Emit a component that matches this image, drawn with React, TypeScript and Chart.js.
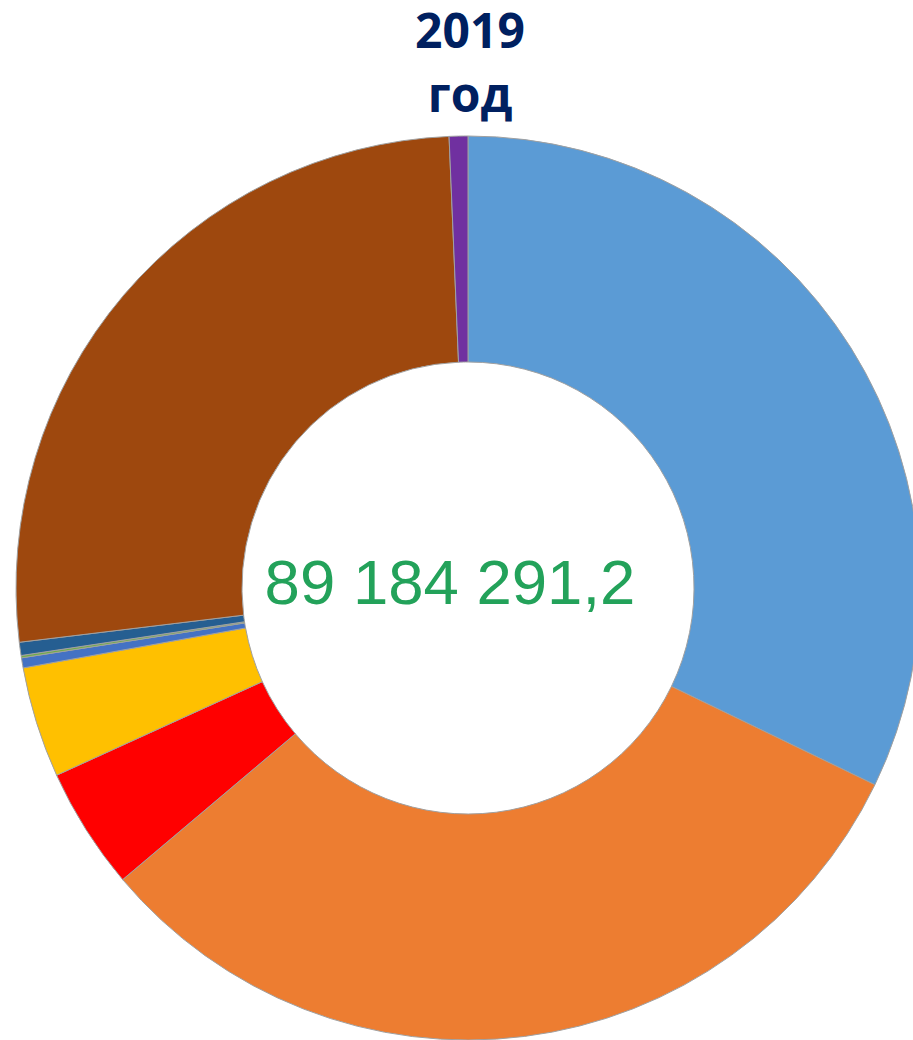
import React, { useEffect, useRef } from "react";
import { Chart, registerables } from "chart.js";

Chart.register(...registerables);

const categories = [
  "Категория 1",
  "Категория 2",
  "Категория 3",
  "Категория 4",
  "Категория 5",
  "Категория 6",
  "Категория 7",
  "Категория 8",
  "Категория 9",
];
const values = [28690000, 28245000, 3890000, 3540000, 320000, 75000, 420000, 23410000, 595000];
const colors = ["#5B9BD5", "#ED7D31", "#FF0000", "#FFC000", "#4472C4", "#70AD47", "#255E91", "#9E480E", "#7030A0"];
const titleLines = ["2019", "год"];
const centerLabel = "89 184 291,2";

export default function App() {
  const ref = useRef<HTMLCanvasElement | null>(null);

  useEffect(() => {
    if (!ref.current) return;
    const chart = new Chart(ref.current, {
      type: "doughnut",
      data: {
        labels: categories,
        datasets: [
          {
            data: values,
            backgroundColor: colors,
            borderColor: "#a0a0a0",
            borderWidth: 1,
          },
        ],
      },
      options: {
        responsive: false,
        animation: false,
        radius: 452,
        cutout: "50%",
        rotation: 0,
        layout: { padding: 0 },
        plugins: {
          legend: { display: false },
          tooltip: { enabled: false },
          title: { display: false },
        },
      },
    });
    return () => chart.destroy();
  }, []);

  return (
    <div
      style={{
        position: "fixed",
        left: 0,
        top: 0,
        width: 913,
        height: 1040,
        overflow: "hidden",
        background: "#ffffff",
      }}
    >
      <canvas
        ref={ref}
        width={920}
        height={920}
        style={{ position: "absolute", left: 8, top: 128, width: 920, height: 920 }}
      />
      <div
        style={{
          position: "absolute",
          left: 370,
          top: -2,
          width: 200,
          textAlign: "center",
          fontFamily: "'Open Sans', sans-serif",
          fontWeight: 700,
          fontSize: 48,
          lineHeight: "64px",
          color: "#002060",
        }}
      >
        {titleLines.map((t, i) => (
          <div key={i}>{t}</div>
        ))}
      </div>
      <div
        style={{
          position: "absolute",
          left: 0,
          top: 547,
          width: 900,
          textAlign: "center",
          fontFamily: "'Liberation Sans', Arial, sans-serif",
          fontSize: 63.5,
          lineHeight: "70px",
          color: "#23A25A",
          whiteSpace: "nowrap",
        }}
      >
        {centerLabel}
      </div>
    </div>
  );
}
